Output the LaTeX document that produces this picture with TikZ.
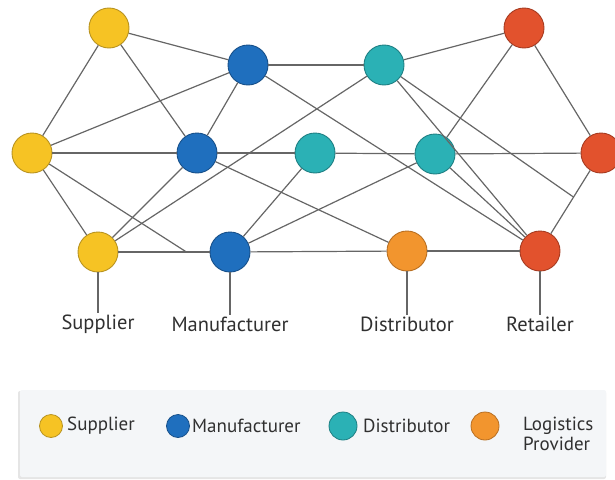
\documentclass[tikz,border=0pt]{standalone}
\usepackage{fontspec}
\setmainfont{PT Sans}
\usetikzlibrary{calc}

\definecolor{supfill}{HTML}{F6C324}
\definecolor{supline}{HTML}{B89320}
\definecolor{mfrfill}{HTML}{1F6FBE}
\definecolor{mfrline}{HTML}{17508A}
\definecolor{distfill}{HTML}{2BB1B5}
\definecolor{distline}{HTML}{1E7F83}
\definecolor{logifill}{HTML}{F2952E}
\definecolor{logiline}{HTML}{B86F22}
\definecolor{retfill}{HTML}{E2522D}
\definecolor{retline}{HTML}{A63B21}
\definecolor{linkgray}{HTML}{666666}
\definecolor{txtgray}{HTML}{303030}
\definecolor{keybg}{HTML}{F4F6F8}

\begin{document}
\begin{tikzpicture}[x=1pt,y=-1pt,
	hub/.style={circle, draw, line width=0.9pt, minimum size=40pt, inner sep=0pt},
	sup/.style={hub, fill=supfill, draw=supline},
	mfr/.style={hub, fill=mfrfill, draw=mfrline},
	dist/.style={hub, fill=distfill, draw=distline},
	logi/.style={hub, fill=logifill, draw=logiline},
	ret/.style={hub, fill=retfill, draw=retline},
	link/.style={draw=linkgray, line width=1.2pt},
	tag/.style={text=txtgray, inner sep=1pt, font=\fontsize{20.5}{24}\selectfont},
	keytxt/.style={text=txtgray, inner sep=0pt, anchor=west, align=left,
		font=\fontsize{19}{20}\selectfont},
	key/.style={circle, draw, line width=0.8pt, inner sep=0pt}]
	\useasboundingbox (0,0) rectangle (615,479);

		% the network
		\draw (109,28) node [sup] (s1) {};
		\draw (32,153) node [sup] (s2) {};
		\draw (98,252) node [sup] (s3) {};
		\draw (248,65) node [mfr] (m1) {};
		\draw (197,153) node [mfr] (m2) {};
		\draw (230,252) node [mfr] (m3) {};
		\draw (384,65) node [dist] (d1) {};
		\draw (315,153) node [dist] (d2) {};
		\draw (435,154) node [dist] (d3) {};
		\draw (407,251) node [logi] (l1) {};
		\draw (524,28) node [ret] (r1) {};
		\draw (601,153) node [ret] (r2) {};
		\draw (540,251) node [ret] (r3) {};

		\coordinate (kink) at ($(r2)!0.45!(r3)$);
		\coordinate (ledge) at ($(s3)!0.67!(m3)$);

		\draw [link]
		(s1) edge (s2)
			edge (m1)
			edge (m2)
		(m1) edge (d1)
			edge (s2)
			edge (m2)
			edge (r3)
		(d1) edge (r1)
			edge (s3)
			edge (r3)
			edge (kink)
		(r1) edge (d3)
			edge (r2)
		(s2) edge (m2)
			edge (s3)
			edge (ledge)
		(m2) edge (d2)
			edge (s3)
			edge (l1)
		(d2) edge (d3)
			edge (m3)
		(d3) edge (r2)
			edge (m3)
			edge (r3)
		(r2) edge (r3)
		(s3) edge (m3)
		(m3) edge (l1)
		(l1) edge (r3);

		% names under the bottom row
		\draw (98,324) node [tag] (tsup) {Supplier};
		\draw (230,324) node [tag] (tmfr) {Manufacturer};
		\draw (407,324) node [tag] (tdist) {Distributor};
		\draw (540,324) node [tag] (tret) {Retailer};

		\draw [link]
		(s3) edge (tsup)
		(m3) edge (tmfr)
		(l1) edge (tdist)
		(r3) edge (tret);

		% legend
		\fill [black!10, rounded corners=2pt] (18,391) rectangle (606,479);
		\fill [keybg, rounded corners=2pt] (20,390) rectangle (606,477);

		\draw (51,426) node [key, fill=supfill, draw=supline, minimum size=23pt] (ksup) {};
		\draw (67,426) node [keytxt] (ksupt) {Supplier};
		\draw (178,426) node [key, fill=mfrfill, draw=mfrline, minimum size=23pt] (kmfr) {};
		\draw (192,426) node [keytxt] (kmfrt) {Manufacturer};
		\draw (343,426) node [key, fill=distfill, draw=distline, minimum size=28pt] (kdist) {};
		\draw (363,426) node [keytxt] (kdistt) {Distributor};
		\draw (485,426) node [key, fill=logifill, draw=logiline, minimum size=28pt] (klogi) {};
		\draw (523,434) node [keytxt] (klogit) {Logistics\\Provider};
	\end{tikzpicture}
\end{document}
